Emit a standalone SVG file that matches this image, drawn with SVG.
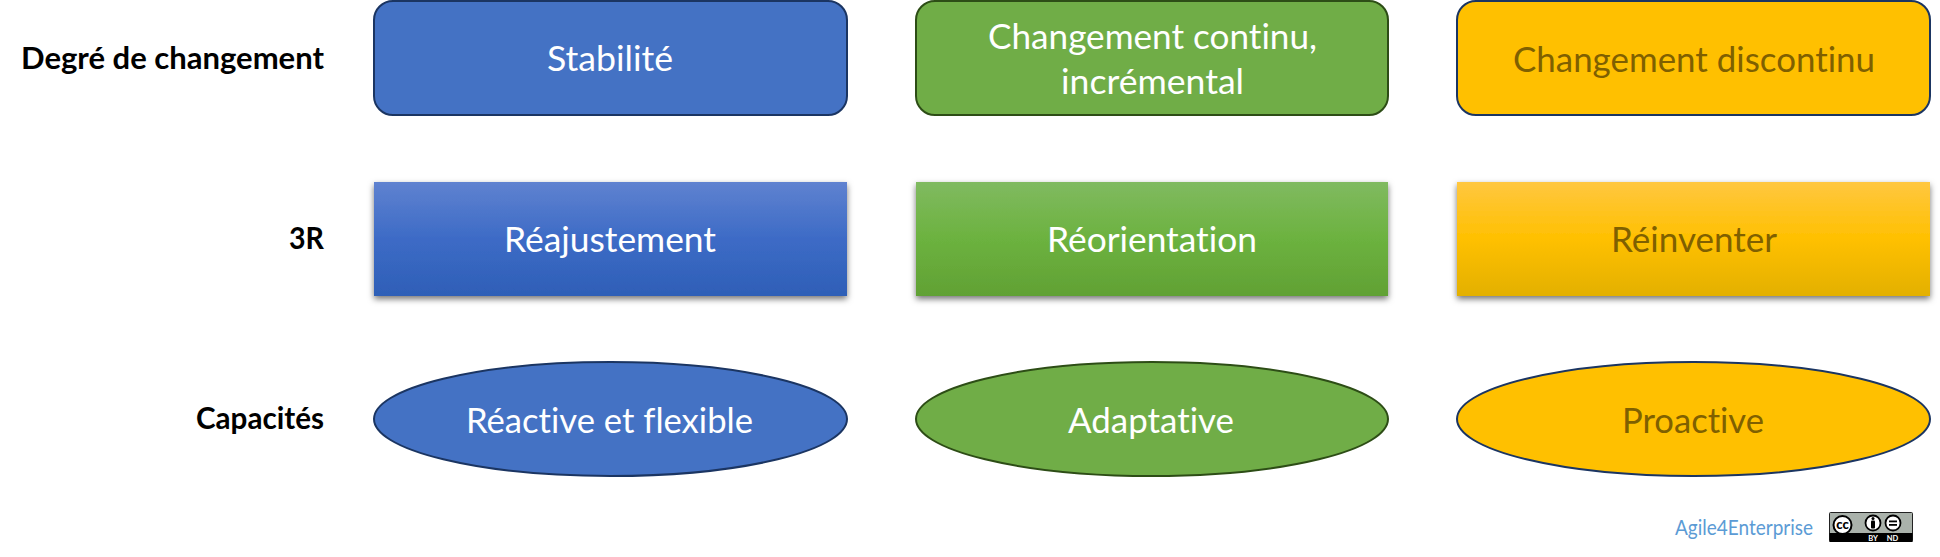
<svg xmlns="http://www.w3.org/2000/svg" width="1940" height="557" viewBox="0 0 1940 557">
<style>
text{font-family:Lato,"Open Sans","Liberation Sans",sans-serif;font-variant-ligatures:none}
.t{font-size:35px;fill:#fff;text-anchor:start}
.d{fill:#7f6000}
.h{font-size:31px;font-weight:700;fill:#000}
.sb{stroke:#1b3562;stroke-width:2}
.sg{stroke:#2d4d16;stroke-width:2}
.so{stroke:#1b3562;stroke-width:2}
</style>
<defs>
<linearGradient id="gb" x1="0" y1="0" x2="0" y2="1"><stop offset="0" stop-color="#5f82d0"/><stop offset=".5" stop-color="#3d6bc6"/><stop offset="1" stop-color="#2e5fb7"/></linearGradient>
<linearGradient id="gg" x1="0" y1="0" x2="0" y2="1"><stop offset="0" stop-color="#80ba60"/><stop offset=".5" stop-color="#6cb23f"/><stop offset="1" stop-color="#61a134"/></linearGradient>
<linearGradient id="go" x1="0" y1="0" x2="0" y2="1"><stop offset="0" stop-color="#ffc740"/><stop offset=".5" stop-color="#ffc000"/><stop offset="1" stop-color="#e3b000"/></linearGradient>
<filter id="sh" x="-5%" y="-10%" width="110%" height="125%"><feDropShadow dx="0" dy="3" stdDeviation="3" flood-color="#000" flood-opacity=".55"/></filter>
</defs>
<rect width="1940" height="557" fill="#fff"/>
<g id="labels">
<text class="h" x="21" y="69" textLength="303" lengthAdjust="spacingAndGlyphs">Degré de changement</text>
<text class="h" x="289" y="249" textLength="35" lengthAdjust="spacingAndGlyphs">3R</text>
<text class="h" x="196" y="429" textLength="128" lengthAdjust="spacingAndGlyphs">Capacités</text>
</g>
<g id="n-stabilite"><rect x="374" y="1" width="473" height="114" rx="19" fill="#4472c4" class="sb"/><text class="t" x="547" y="71" textLength="126" lengthAdjust="spacingAndGlyphs">Stabilité</text></g>
<g id="n-continu"><rect x="916" y="1" width="472" height="114" rx="19" fill="#70ad47" class="sg"/><text class="t" x="988" y="49" textLength="329" lengthAdjust="spacingAndGlyphs">Changement continu,</text><text class="t" x="1061" y="94" textLength="183" lengthAdjust="spacingAndGlyphs">incrémental</text></g>
<g id="n-discontinu"><rect x="1457" y="1" width="473" height="114" rx="19" fill="#ffc000" class="so"/><text class="t d" x="1513" y="72" textLength="362" lengthAdjust="spacingAndGlyphs">Changement discontinu</text></g>
<g id="n-reajustement"><rect x="374" y="182" width="473" height="114" fill="url(#gb)" filter="url(#sh)"/><text class="t" x="504" y="252" textLength="212" lengthAdjust="spacingAndGlyphs">Réajustement</text></g>
<g id="n-reorientation"><rect x="916" y="182" width="472" height="114" fill="url(#gg)" filter="url(#sh)"/><text class="t" x="1047" y="252" textLength="210" lengthAdjust="spacingAndGlyphs">Réorientation</text></g>
<g id="n-reinventer"><rect x="1457" y="182" width="473" height="114" fill="url(#go)" filter="url(#sh)"/><text class="t d" x="1611" y="252" textLength="166" lengthAdjust="spacingAndGlyphs">Réinventer</text></g>
<g id="n-reactive"><ellipse cx="610.500" cy="419" rx="236.500" ry="57" fill="#4472c4" class="sb"/><text class="t" x="466" y="433" textLength="287" lengthAdjust="spacingAndGlyphs">Réactive et flexible</text></g>
<g id="n-adaptative"><ellipse cx="1152" cy="419" rx="236" ry="57" fill="#70ad47" class="sg"/><text class="t" x="1068" y="433" textLength="166" lengthAdjust="spacingAndGlyphs">Adaptative</text></g>
<g id="n-proactive"><ellipse cx="1693.500" cy="419" rx="236.500" ry="57" fill="#ffc000" class="so"/><text class="t d" x="1622" y="433" textLength="142" lengthAdjust="spacingAndGlyphs">Proactive</text></g>
<g id="connectors"/>
<g id="credit">
<text x="1675" y="535" font-size="21.500" fill="#5b9bd5" textLength="138" lengthAdjust="spacingAndGlyphs">Agile4Enterprise</text>
<rect x="1829.500" y="512.500" width="83" height="29" rx="1" fill="#aab2ab" stroke="#222" stroke-width="1"/>
<rect x="1829.500" y="533" width="83" height="9" fill="#000"/>
<circle cx="1842.500" cy="525" r="9" fill="#fff" stroke="#000" stroke-width="2"/>
<text x="1842.500" y="529" font-size="13" font-weight="900" text-anchor="middle" fill="#000">cc</text>
<circle cx="1873" cy="523" r="7.500" fill="#fff" stroke="#000" stroke-width="1.800"/>
<circle cx="1873" cy="518.500" r="1.500" fill="#000"/>
<rect x="1871" y="520.500" width="4" height="8" rx="1" fill="#000"/>
<circle cx="1893" cy="523" r="7.500" fill="#fff" stroke="#000" stroke-width="1.800"/>
<rect x="1889" y="520.500" width="8" height="1.800" fill="#000"/>
<rect x="1889" y="524" width="8" height="1.800" fill="#000"/>
<text x="1873" y="540.500" font-size="7.500" font-weight="700" text-anchor="middle" fill="#fff">BY</text>
<text x="1892.500" y="540.500" font-size="7.500" font-weight="700" text-anchor="middle" fill="#fff">ND</text>
</g>
</svg>
